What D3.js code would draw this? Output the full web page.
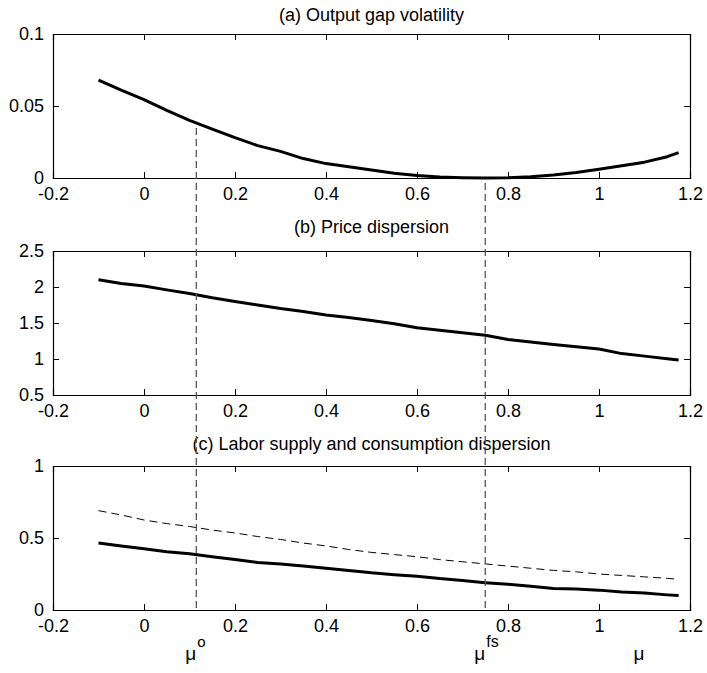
<!DOCTYPE html>
<html>
<head>
<meta charset="utf-8">
<script src="https://cdn.jsdelivr.net/npm/d3@7"></script>
<style>
  html, body { margin: 0; padding: 0; background: #fff; }
  svg { display: block; }
  text { font-family: "Liberation Sans", Arial, Helvetica, sans-serif; fill: #000; }
</style>
</head>
<body>
<svg id="chart" width="707" height="673"></svg>
<script>
// Grid of mu values at which the model was solved
const muGrid = [-0.1, -0.05, 0, 0.05, 0.1, 0.15, 0.2, 0.25, 0.3, 0.35, 0.4, 0.45, 0.5,
  0.55, 0.6, 0.65, 0.7, 0.75, 0.8, 0.85, 0.9, 0.95, 1.0, 1.05, 1.1, 1.15, 1.175];

// (a) output gap volatility
const gapVolatility = [0.068, 0.061, 0.0545, 0.047, 0.040, 0.034, 0.028, 0.0225, 0.0185,
  0.0135, 0.010, 0.0078, 0.0055, 0.0033, 0.0017, 0.0007, 0.0002, 0.0, 0.0002, 0.0008,
  0.0021, 0.0038, 0.006, 0.0085, 0.011, 0.0148, 0.0176];

// (b) price dispersion
const priceDispersion = [2.10, 2.05, 2.015, 1.96, 1.91, 1.85, 1.80, 1.75, 1.70, 1.66, 1.61,
  1.575, 1.535, 1.49, 1.435, 1.40, 1.365, 1.33, 1.27, 1.235, 1.20, 1.17, 1.14, 1.075,
  1.04, 1.005, 0.985];

// (c) labor supply dispersion (solid) and consumption dispersion (dashed)
const laborDispersion = [0.465, 0.445, 0.425, 0.405, 0.39, 0.37, 0.35, 0.33, 0.32, 0.305,
  0.29, 0.275, 0.258, 0.245, 0.235, 0.218, 0.205, 0.19, 0.178, 0.165, 0.15, 0.145, 0.138,
  0.125, 0.118, 0.105, 0.1];
const consumptionDispersion = [0.69, 0.66, 0.625, 0.60, 0.58, 0.555, 0.535, 0.51, 0.49,
  0.465, 0.445, 0.42, 0.40, 0.385, 0.37, 0.35, 0.335, 0.32, 0.305, 0.29, 0.275, 0.265,
  0.25, 0.24, 0.23, 0.22, 0.213];

// Axis ticks and panel titles
const xTicks = [-0.2, 0, 0.2, 0.4, 0.6, 0.8, 1, 1.2];
const yTicksA = [0, 0.05, 0.1];
const yTicksB = [0.5, 1, 1.5, 2, 2.5];
const yTicksC = [0, 0.5, 1];
const panelTitles = ["(a) Output gap volatility", "(b) Price dispersion",
  "(c) Labor supply and consumption dispersion"];

// Reference values of mu marked with vertical lines
const muOptimal = 0.115;
const muFlexible = 0.75;

const svg = d3.select("#chart");
const left = 53, right = 690, panelH = 144;
const panelTops = [34, 251, 466];
const titleBaselines = [21, 233, 450];
const fontSize = 18;

const x = d3.scaleLinear().domain([-0.2, 1.2]).range([left, right]);

const panels = [
  { domain: [0, 0.1], ticks: yTicksA, series: [{ v: gapVolatility, dash: null }] },
  { domain: [0.5, 2.5], ticks: yTicksB, series: [{ v: priceDispersion, dash: null }] },
  { domain: [0, 1], ticks: yTicksC, series: [
      { v: consumptionDispersion, dash: "8,5" },
      { v: laborDispersion, dash: null }] }
];

const yScales = [];

panels.forEach((p, i) => {
  const top = panelTops[i], bottom = top + panelH;
  const y = d3.scaleLinear().domain(p.domain).range([bottom, top]);
  yScales.push(y);
  const g = svg.append("g");

  // axes with inward ticks, mirrored on the opposite sides
  const axB = d3.axisBottom(x).tickValues(xTicks).tickSize(-6).tickPadding(9).tickFormat(d => String(d));
  const axT = d3.axisTop(x).tickValues(xTicks).tickSize(-6).tickFormat("");
  const axL = d3.axisLeft(y).tickValues(p.ticks).tickSize(-6).tickPadding(9).tickFormat(d => String(d));
  const axR = d3.axisRight(y).tickValues(p.ticks).tickSize(-6).tickFormat("");

  const gb = g.append("g").attr("transform", `translate(0,${bottom})`).call(axB);
  const gt = g.append("g").attr("transform", `translate(0,${top})`).call(axT);
  const gl = g.append("g").attr("transform", `translate(${left},0)`).call(axL);
  const gr = g.append("g").attr("transform", `translate(${right},0)`).call(axR);

  [gb, gt, gl, gr].forEach(a => {
    a.selectAll(".domain").attr("stroke", "#000").attr("stroke-width", 1.2);
    a.selectAll(".tick line").attr("stroke", "#000").attr("stroke-width", 1);
    a.selectAll("text").attr("font-size", fontSize)
      .attr("font-family", "'Liberation Sans', Arial, sans-serif").attr("fill", "#000");
  });

  // title
  svg.append("text").attr("x", (left + right) / 2).attr("y", titleBaselines[i])
    .attr("text-anchor", "middle").attr("font-size", fontSize).text(panelTitles[i]);

  // curves
  p.series.forEach(s => {
    const line = d3.line().x((d, k) => x(muGrid[k])).y(d => y(d));
    g.append("path").datum(s.v)
      .attr("d", line)
      .attr("fill", "none")
      .attr("stroke", "#000")
      .attr("stroke-width", s.dash ? 1 : 3)
      .attr("stroke-dasharray", s.dash)
      .attr("stroke-linejoin", "round");
  });
});

// value of gap volatility at a given mu
function gapAt(mu) {
  const k = d3.bisectRight(muGrid, mu) - 1;
  const k0 = Math.max(0, Math.min(k, muGrid.length - 2));
  const t = (mu - muGrid[k0]) / (muGrid[k0 + 1] - muGrid[k0]);
  return gapVolatility[k0] + t * (gapVolatility[k0 + 1] - gapVolatility[k0]);
}

// vertical reference lines running from panel (a) down to panel (c)
[muOptimal, muFlexible].forEach(mu => {
  svg.append("line")
    .attr("x1", x(mu)).attr("x2", x(mu))
    .attr("y1", yScales[0](gapAt(mu)) + 5)
    .attr("y2", yScales[2](0) - 2)
    .attr("stroke", "#555")
    .attr("stroke-width", 1.3)
    .attr("stroke-dasharray", "7,4");
});

// mu labels below the bottom axis
const muLabels = [
  { mu: muOptimal, sup: "o", supSize: 15 },
  { mu: muFlexible, sup: "fs", supSize: 16 },
  { mu: 1.1, sup: "", supSize: 0 }
];
muLabels.forEach(l => {
  const t = svg.append("text")
    .attr("x", x(l.mu) - 11)
    .attr("y", 660)
    .attr("font-size", 19);
  t.append("tspan").text("\u03BC");
  if (l.sup) {
    t.append("tspan").attr("dy", -13).attr("dx", 1).attr("font-size", l.supSize).text(l.sup);
  }
});
</script>
</body>
</html>
